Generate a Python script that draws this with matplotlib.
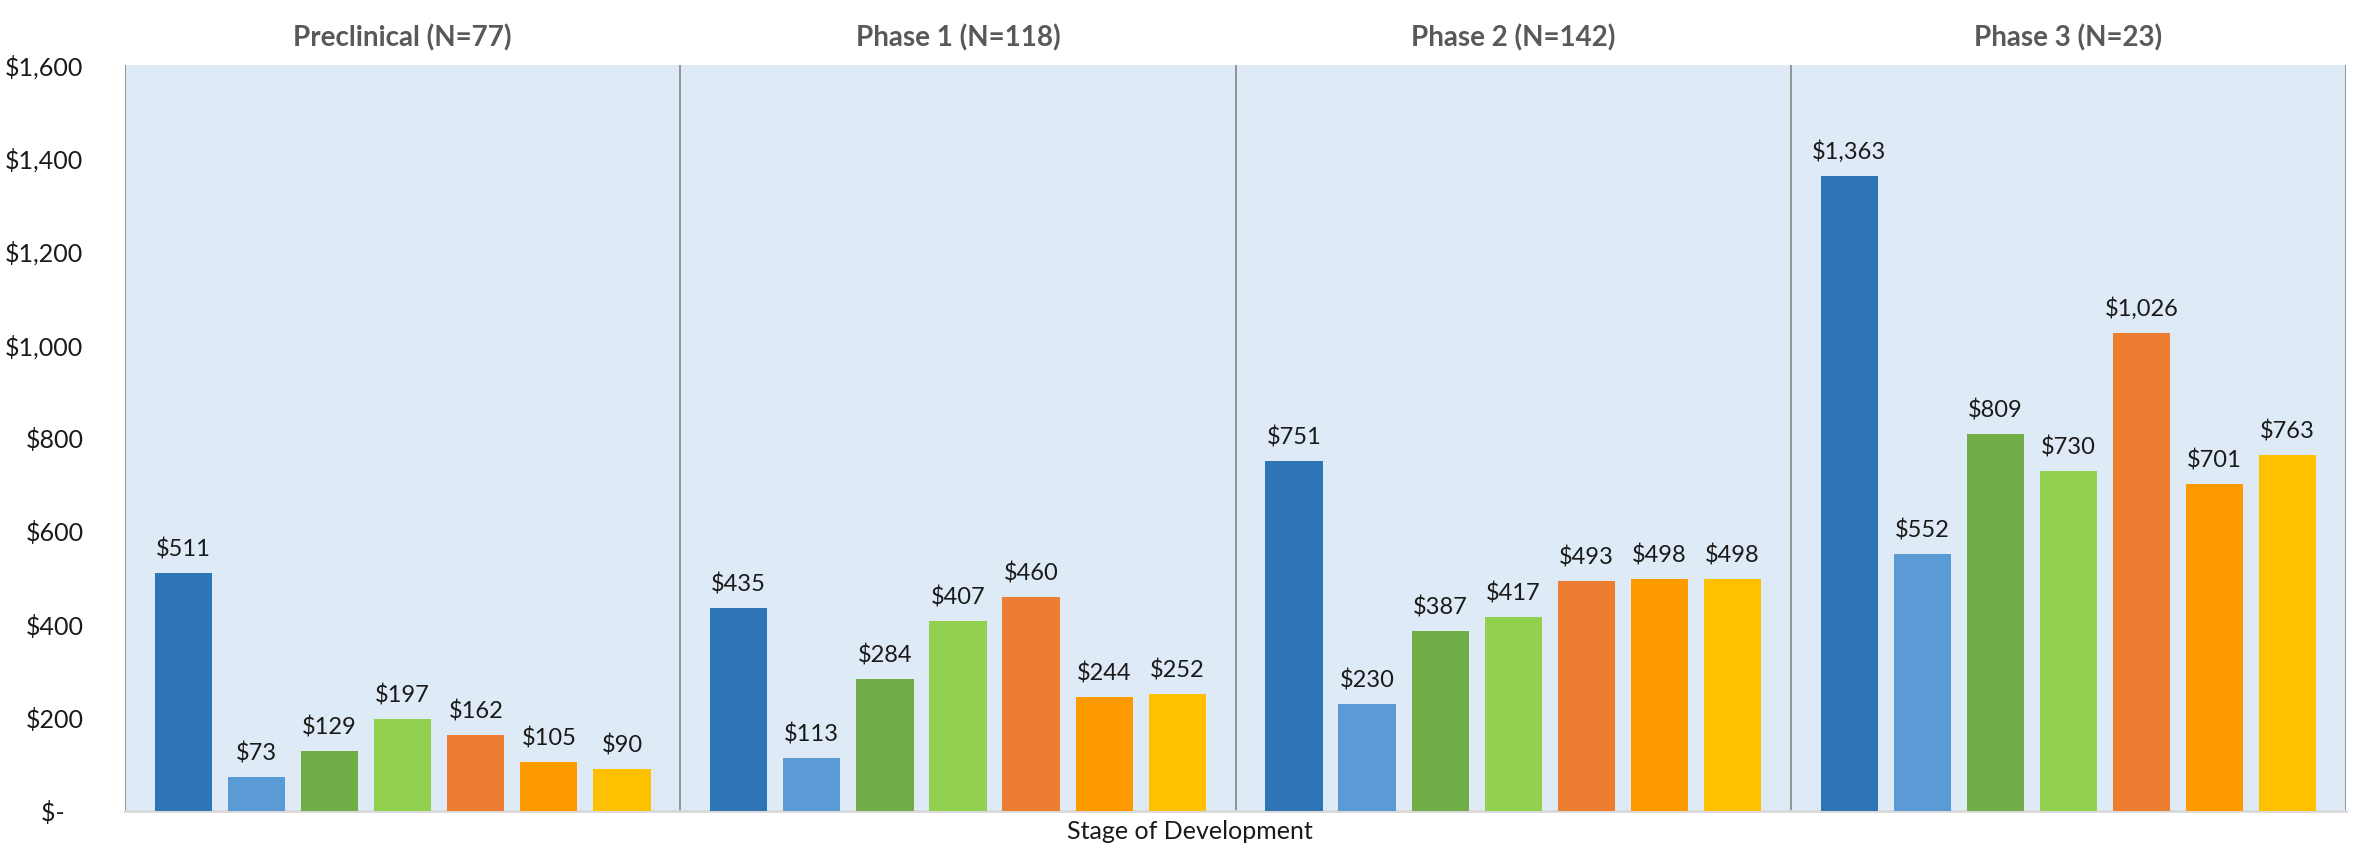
import numpy as np
import matplotlib
matplotlib.use('Agg')
import matplotlib.pyplot as plt
import matplotlib.ticker as mticker
import matplotlib.transforms as mtransforms

plt.rcParams['font.family'] = ['Lato', 'DejaVu Sans']

# ── data ────────────────────────────────────────────────────────────────────
stages = ['Preclinical (N=77)', 'Phase 1 (N=118)', 'Phase 2 (N=142)', 'Phase 3 (N=23)']
preclinical = [511, 73, 129, 197, 162, 105, 90]
phase1 = [435, 113, 284, 407, 460, 244, 252]
phase2 = [751, 230, 387, 417, 493, 498, 498]
phase3 = [1363, 552, 809, 730, 1026, 701, 763]
y_ticks = [0, 200, 400, 600, 800, 1000, 1200, 1400, 1600]

COLORS = ['#2E75B6', '#5B9BD5', '#70AD47', '#92D050', '#ED7D31', '#FF9900', '#FFC000']

groups = [preclinical, phase1, phase2, phase3]

fig = plt.figure(figsize=(23.56, 8.47), dpi=100)
ax = fig.add_axes([0.0531, 0.0425, 0.9427, 0.8805])
ax.set_facecolor('#DEEAF6')

pitch = 0.1316
width = 0.103
for gi, vals in enumerate(groups):
    for k, v in enumerate(vals):
        x = gi + 0.5 + (k - 3) * pitch
        ax.bar(x, v, width=width, color=COLORS[k], edgecolor='none', zorder=3)
        ax.annotate(f'${v:,}', (x, v), xytext=(0, 9), textcoords='offset points',
                    ha='center', va='bottom', fontsize=17, color='#1a1a1a')

# group separators
for xb in range(0, 5):
    ax.axvline(xb, color='#8c8c8c', linewidth=1.3, zorder=2)

ax.set_xlim(0, 4)
ax.set_ylim(0, 1600)
ax.set_yticks(y_ticks)
ax.yaxis.set_major_formatter(
    mticker.FuncFormatter(lambda y, _: '$-   ' if y == 0 else f'${y:,.0f}'))
ax.tick_params(axis='y', length=0, pad=30, labelsize=18, labelcolor='#1a1a1a')
ax.set_xticks([])

for side in ['top', 'left', 'right']:
    ax.spines[side].set_visible(False)
ax.spines['bottom'].set_color('#d9d9d9')
ax.spines['bottom'].set_linewidth(2)

# stage titles above each group
trans = mtransforms.blended_transform_factory(ax.transData, fig.transFigure)
for gi, name in enumerate(stages):
    ax.text(gi + 0.5, 0.955, name, transform=trans, ha='center', va='center',
            fontsize=20, fontweight='bold', color='#595959')

fig.text(0.505, 0.018, 'Stage of Development', ha='center', va='center',
         fontsize=18, color='#1a1a1a')

fig.savefig('out.png', dpi=100, facecolor='white')
plt.close(fig)
